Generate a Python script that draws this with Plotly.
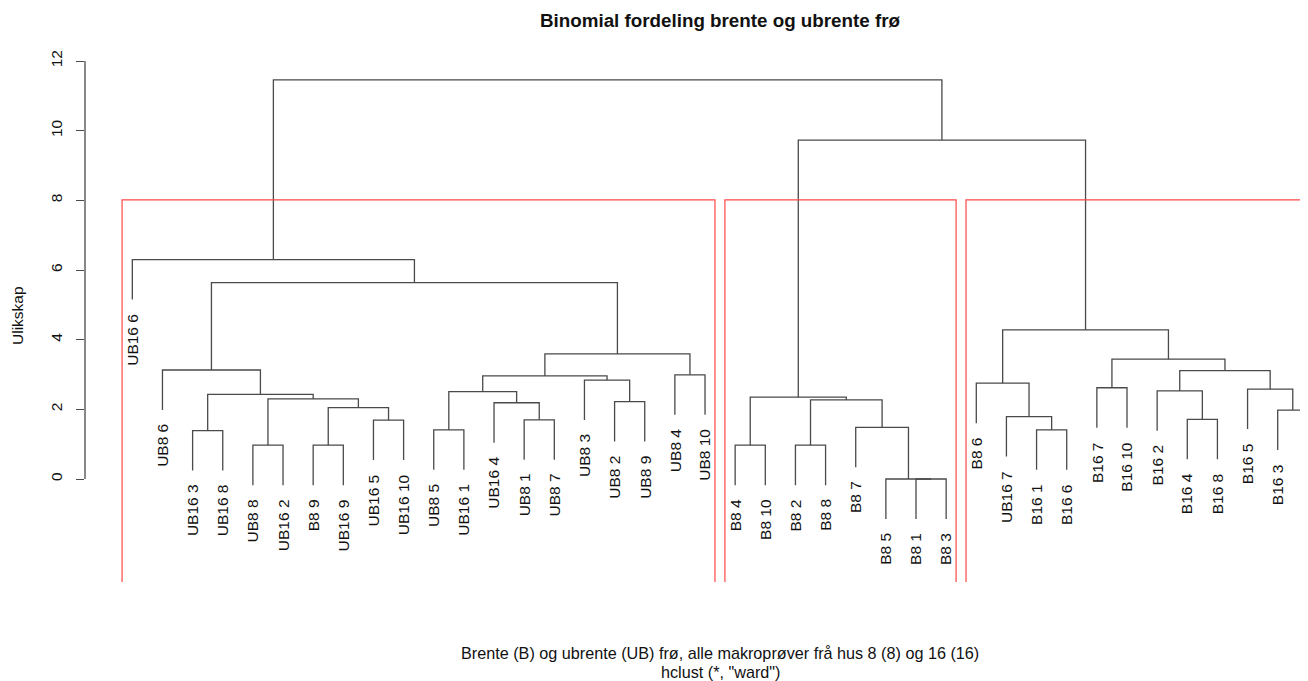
import plotly.graph_objects as go

# ---------------- data ----------------
leaf_labels = ["UB16 6", "UB8 6", "UB16 3", "UB16 8", "UB8 8", "UB16 2", "B8 9", "UB16 9",
               "UB16 5", "UB16 10", "UB8 5", "UB16 1", "UB16 4", "UB8 1", "UB8 7", "UB8 3",
               "UB8 2", "UB8 9", "UB8 4", "UB8 10",
               "B8 4", "B8 10", "B8 2", "B8 8", "B8 7", "B8 5", "B8 1", "B8 3",
               "B8 6", "UB16 7", "B16 1", "B16 6", "B16 7", "B16 10", "B16 2", "B16 4",
               "B16 8", "B16 5", "B16 3", "B16 9"]

# merge steps: each side is a leaf label (str) or the index of an earlier merge (int)
merge_left = ["UB16 3", "UB8 8", "B8 9", "UB16 5", 2, 1, 0, "UB8 6",
              "UB8 5", "UB8 1", "UB16 4", 8, "UB8 2", "UB8 3", 11, "UB8 4", 14, 7, "UB16 6",
              "B8 4", "B8 2", "B8 1", "B8 5", "B8 7", 20, 19,
              "B16 1", "UB16 7", "B8 6", "B16 7", "B16 4", "B16 2", "B16 3", "B16 5", 31, 29, 28,
              25, 18]
merge_right = ["UB16 8", "UB16 2", "UB16 9", "UB16 10", 3, 4, 5, 6,
               "UB16 1", "UB8 7", 9, 10, "UB8 9", 12, 13, "UB8 10", 15, 16, 17,
               "B8 10", "B8 8", "B8 3", 21, 22, 23, 24,
               "B16 6", 26, 27, "B16 10", "B16 8", 30, "B16 9", 32, 33, 34, 35,
               36, 37]
merge_height = [1.39, 0.97, 0.97, 1.69, 2.05, 2.30, 2.43, 3.13,
                1.41, 1.70, 2.19, 2.51, 2.22, 2.84, 2.96, 2.99, 3.59, 5.64, 6.30,
                0.97, 0.97, 0.00, 0.00, 1.48, 2.27, 2.35,
                1.41, 1.79, 2.75, 2.62, 1.71, 2.53, 1.98, 2.58, 3.11, 3.44, 4.28,
                9.73, 11.46]

y_ticks = [0, 2, 4, 6, 8, 10, 12]
n_clusters = 3
hang_frac = 0.1

title_text = "Binomial fordeling brente og ubrente frø"
xlab_text = "Brente (B) og ubrente (UB) frø, alle makroprøver frå hus 8 (8) og 16 (16)"
sub_text = 'hclust (*, "ward")'
ylab_text = "Ulikskap"

# ---------------- layout geometry ----------------
# the page body has an 8px margin, so the figure is 8px smaller and
# everything is positioned in page pixels minus 8
OFF = 8
W, H = 1308 - OFF, 681 - OFF
ML, MR, MT = 85 - OFF, 0, 40 - OFF
MB = H - (582 - OFF)
X_RANGE = [-0.57, 40.005]
Y_RANGE = [-2.957, 12.604]


def pxx(px):
    return (px - OFF - ML) / (W - ML - MR)


def pxy(py):
    return (H - MB - (py - OFF)) / (H - MT - MB)


# ---------------- dendrogram computation ----------------
leaf_pos = {lab: i + 1 for i, lab in enumerate(leaf_labels)}
hang = hang_frac * (max(merge_height) - min(merge_height))

node_x = []
leaf_end = {}
lx, ly = [], []


def child_info(c, h):
    if isinstance(c, str):
        y_bot = h - hang
        leaf_end[c] = y_bot
        return leaf_pos[c], y_bot
    return node_x[c], merge_height[c]


for i, (a, b) in enumerate(zip(merge_left, merge_right)):
    h = merge_height[i]
    xa, ya = child_info(a, h)
    xb, yb = child_info(b, h)
    node_x.append((xa + xb) / 2)
    lx += [xa, xa, xb, xb, None]
    ly += [ya, h, h, yb, None]

fig = go.Figure()
fig.add_trace(go.Scatter(x=lx, y=ly, mode="lines",
                         line=dict(color="#4a4a4a", width=1.3),
                         hoverinfo="skip", showlegend=False))


# clusters (rect.hclust, k = n_clusters)
def leaves_of(node):
    if isinstance(node, str):
        return [leaf_pos[node]]
    return leaves_of(merge_left[node]) + leaves_of(merge_right[node])


nodes = [len(merge_height) - 1]
while len(nodes) < n_clusters:
    cand = [n for n in nodes if isinstance(n, int)]
    top = max(cand, key=lambda n: merge_height[n])
    nodes.remove(top)
    nodes += [merge_left[top], merge_right[top]]
hs = sorted(merge_height, reverse=True)
rect_top = (hs[n_clusters - 2] + hs[n_clusters - 1]) / 2
rx, ry = [], []
for n in nodes:
    pos = leaves_of(n)
    x0, x1 = min(pos) - 0.34, max(pos) + 0.33
    rx += [x0, x0, x1, x1, None]
    ry += [Y_RANGE[0] - 1, rect_top, rect_top, Y_RANGE[0] - 1, None]
fig.add_trace(go.Scatter(x=rx, y=ry, mode="lines",
                         line=dict(color="rgb(255,70,70)", width=1.2),
                         hoverinfo="skip", showlegend=False))

FONT = "Liberation Sans, Arial, Helvetica, sans-serif"
annotations = []
for lab in leaf_labels:
    annotations.append(dict(x=leaf_pos[lab], y=leaf_end[lab], xref="x", yref="y",
                            text=lab, textangle=-90, showarrow=False,
                            xanchor="center", yanchor="top", yshift=-12,
                            font=dict(family=FONT, size=15.5, color="#111")))

annotations.append(dict(x=pxx(721), y=pxy(21), xref="paper", yref="paper",
                        text="<b>" + title_text + "</b>", showarrow=False,
                        xanchor="center", yanchor="middle",
                        font=dict(family=FONT, size=18.8, color="#111")))
annotations.append(dict(x=pxx(720), y=pxy(653), xref="paper", yref="paper",
                        text=xlab_text, showarrow=False,
                        xanchor="center", yanchor="middle",
                        font=dict(family=FONT, size=16.2, color="#111")))
annotations.append(dict(x=pxx(720), y=pxy(672), xref="paper", yref="paper",
                        text=sub_text, showarrow=False,
                        xanchor="center", yanchor="middle",
                        font=dict(family=FONT, size=16.2, color="#111")))
annotations.append(dict(x=pxx(17), y=pxy(316), xref="paper", yref="paper",
                        text=ylab_text, textangle=-90, showarrow=False,
                        xanchor="center", yanchor="middle",
                        font=dict(family=FONT, size=15.5, color="#111")))

shapes = [dict(type="line", xref="paper", yref="y", x0=0, x1=0,
               y0=min(y_ticks), y1=max(y_ticks),
               line=dict(color="#4a4a4a", width=1.3))]

fig.update_layout(
    width=W, height=H,
    margin=dict(l=ML, r=MR, t=MT, b=MB, pad=0),
    paper_bgcolor="white", plot_bgcolor="white",
    showlegend=False,
    annotations=annotations,
    shapes=shapes,
    xaxis=dict(range=X_RANGE, visible=False, fixedrange=True),
    yaxis=dict(range=Y_RANGE, tickvals=y_ticks, ticktext=[str(t) for t in y_ticks],
               ticks="outside", ticklen=8, tickwidth=1.3, tickcolor="#4a4a4a",
               tickangle=-90, showgrid=False, zeroline=False, showline=False,
               ticklabelstandoff=8,
               tickfont=dict(family=FONT, size=15.5, color="#111")),
)

fig.write_html("out.html")
